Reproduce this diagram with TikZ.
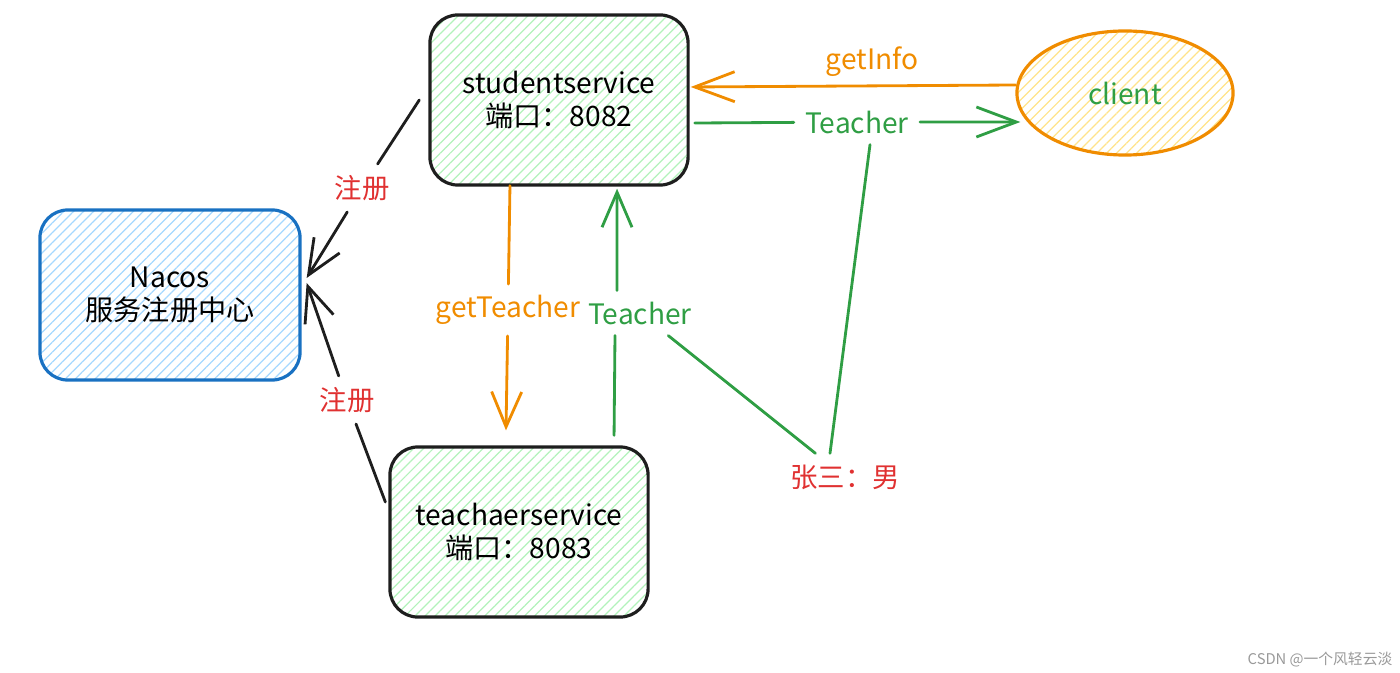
\documentclass[tikz,border=0pt]{standalone}
\usepackage{fontspec}
\setmainfont{Noto Sans CJK SC}
\usetikzlibrary{arrows.meta,patterns.meta,shapes.geometric}
\definecolor{inkblack}{HTML}{1E1E1E}
\definecolor{exgreen}{HTML}{2F9E44}
\definecolor{exorange}{HTML}{F08C00}
\definecolor{exblue}{HTML}{1971C2}
\definecolor{exred}{HTML}{E03131}
\definecolor{hatchgreen}{HTML}{B2F2BB}
\definecolor{hatchblue}{HTML}{A5D8FF}
\definecolor{hatchyellow}{HTML}{FFE38A}
\tikzset{
  hatch/.style={pattern={Lines[angle=45,distance=2pt,line width=0.35pt]}, pattern color=#1},
  svcbox/.style={draw=inkblack, line width=0.9pt, rounded corners=0.28cm, minimum width=2.58cm, minimum height=1.7cm, align=center, hatch=hatchgreen},
  regbox/.style={draw=exblue, line width=0.9pt, rounded corners=0.28cm, minimum width=2.6cm, minimum height=1.7cm, align=center, hatch=hatchblue},
  clientnode/.style={ellipse, draw=exorange, line width=0.9pt, inner sep=0pt, minimum width=2.16cm, minimum height=1.24cm, text=exgreen, hatch=hatchyellow},
  redlabel/.style={text=exred, font=\fontsize{7.8}{9}\selectfont, inner sep=3pt},
  greenlabel/.style={text=exgreen, inner sep=3pt},
  orangelabel/.style={text=exorange, inner sep=3pt},
  credit/.style={text=black!40, font=\fontsize{4.2}{5}\selectfont},
  link/.style={line width=0.8pt, line cap=round},
  tip/.style={-{Straight Barb[length=0.4cm,width=0.3cm,line width=0.8pt]}},
  vtip/.style={-{Straight Barb[length=0.35cm,width=0.3cm,line width=0.8pt]}}
}
\begin{document}
\begin{tikzpicture}[x=0.01cm, y=-0.01cm, font=\fontsize{8}{9.5}\selectfont]
  \useasboundingbox (0,0) rectangle (1400,673);

  \node[svcbox] (ss) at (559,100) {studentservice\\端口：8082};
  \node[svcbox] (ts) at (519,532) {teachaerservice\\端口：8083};
  \node[regbox] (nc) at (170,295) {Nacos\\服务注册中心};
  \node[clientnode] (cl) at (1125,93) {client};

  \node[redlabel] (reg1) at (362,188) {注册};
  \node[redlabel] (reg2) at (347,400) {注册};
  \node[orangelabel] (gi) at (872,62) {getInfo};
  \node[greenlabel] (tc1) at (857,122) {Teacher};
  \node[orangelabel] (gt) at (508,310) {getTeacher};
  \node[greenlabel] (tc2) at (640,313) {Teacher};
  \node[redlabel] (zs) at (845,477) {张三：男};
  \node[credit] (wm) at (1320,660) {CSDN @一个风轻云淡};

  \draw[link, inkblack] ([xshift=-0.1cm]ss.west) -- (reg1);
  \draw[link, inkblack, vtip] (reg1) -- ([xshift=0.05cm,yshift=0.17cm]nc.east);
  \draw[link, inkblack] ([xshift=-0.03cm,yshift=0.3cm]ts.west) -- (reg2);
  \draw[link, inkblack, vtip] (reg2) -- ([xshift=0.05cm,yshift=0.12cm]nc.east);

  \draw[link, exorange, tip] ([yshift=0.08cm]cl.west) -- ([xshift=0.02cm,yshift=0.13cm]ss.east);
  \draw[link, exgreen] ([xshift=0.06cm,yshift=-0.23cm]ss.east) -- (tc1);
  \draw[link, exgreen, tip] (tc1) -- ([xshift=0.05cm,yshift=-0.29cm]cl.west);

  \draw[link, exorange] ([xshift=-0.49cm]ss.south) -- (gt);
  \draw[link, exorange, vtip] (gt) -- ([xshift=-0.13cm,yshift=0.15cm]ts.north);
  \draw[link, exgreen] ([xshift=0.95cm,yshift=0.1cm]ts.north) -- ([xshift=-0.25cm]tc2.south);
  \draw[link, exgreen, vtip] ([xshift=-0.23cm]tc2.north) -- ([xshift=0.58cm,yshift=-0.03cm]ss.south);

  \draw[link, exgreen] (tc2) -- (zs);
  \draw[link, exgreen] ([xshift=0.13cm]tc1.south) -- ([xshift=-0.15cm]zs.north);
\end{tikzpicture}
\end{document}
